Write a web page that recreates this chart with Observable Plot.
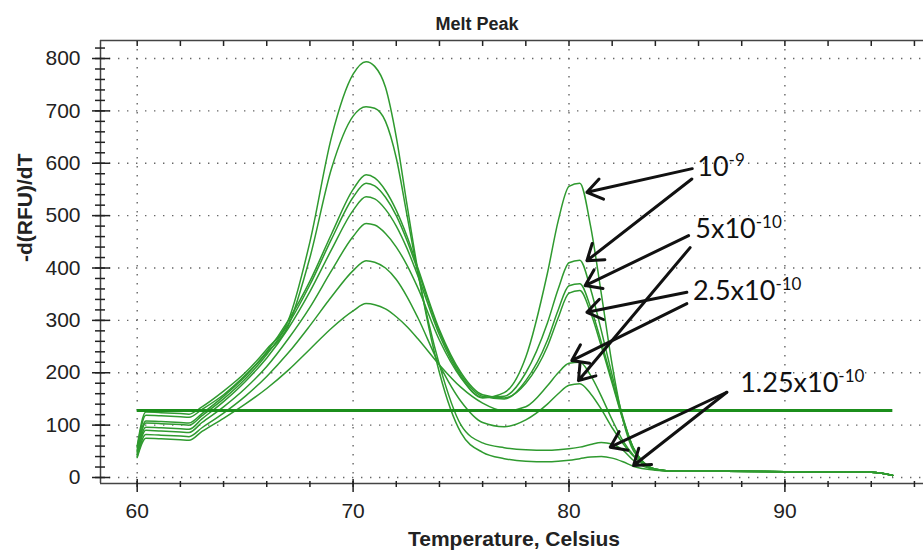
<!DOCTYPE html>
<html><head><meta charset="utf-8">
<script src="https://cdn.jsdelivr.net/npm/d3@7"></script>
<script src="https://cdn.jsdelivr.net/npm/@observablehq/plot@0.6"></script>
<style>body{margin:0;background:#fff}</style>
</head><body><div id="chart"></div>
<script>
// Temperatures (°C) at which the melt-peak curves were read
const temps = [60, 60.4, 61, 62, 62.4, 63, 64, 65, 66, 67, 68, 69, 70, 70.6, 71, 71.5, 72, 72.5, 73, 74, 75, 76, 77, 78, 79, 79.5, 80, 80.5, 81, 81.5, 82, 82.5, 83, 84, 85, 87, 90, 94, 95];

// -d(RFU)/dT for each well
const curve1 = [60,125,124,122,121,135,165,200,245,300,450,650,770,794,785,745,650,520,395,200,85,48,36,31,30,31,33,36,39,40,37,30,21,14,12,12,11,10,4];
const curve2 = [57,119,118,116,115,130,158,195,238,290,420,590,690,708,705,680,610,500,390,215,100,66,57,53,52,53,55,58,63,67,64,52,32,15,12,12,11,10,4];
const curve3 = [52,108,107,105,104,122,155,193,240,300,375,465,550,578,572,548,510,460,400,282,200,158,152,180,250,305,352,357,315,250,180,110,55,16,12,12,11,10,4];
const curve4 = [50,104,103,101,100,118,150,188,235,293,368,455,535,562,557,535,500,452,395,278,196,155,150,185,262,320,366,370,325,258,185,112,55,16,12,12,11,10,4];
const curve5 = [47,96,95,93,92,112,145,183,228,285,355,435,510,536,532,512,480,437,385,272,192,153,155,200,295,360,410,415,360,280,195,115,55,16,12,12,11,10,4];
const curve6 = [44,90,89,87,86,105,135,170,212,265,325,395,460,485,482,466,440,405,362,262,190,152,162,230,390,490,556,562,480,350,215,110,50,16,12,12,11,10,4];
const curve7 = [40,82,81,79,78,95,123,155,193,238,290,345,395,414,411,400,378,345,305,215,145,105,97,110,140,160,176,179,160,130,95,65,40,15,12,12,11,10,4];
const curve8 = [38,75,74,72,71,88,113,140,170,205,245,285,318,332,330,322,307,288,265,215,172,142,127,135,175,200,218,220,195,155,110,70,42,16,12,12,11,10,4];
const curves = [curve1, curve2, curve3, curve4, curve5, curve6, curve7, curve8];

// Threshold line
const threshold = 128;
const thresholdStart = 60, thresholdEnd = 95;

// Ticks
const xMajor = [60, 70, 80, 90];
const xMinor = [60,62,64,66,68,70,72,74,76,78,80,82,84,86,88,90,92,94,96];
const yMajor = [0, 100, 200, 300, 400, 500, 600, 700, 800];
const yMinor = d3.range(0, 821, 20);

// Annotations
const annoText = ["10^-9", "5x10^-10", "2.5x10^-10", "1.25x10^-10"];
const annoX = [85.94, 85.85, 85.74, 87.93];
const annoY = [576.6, 457.6, 339.2, 162.9];

const arrowX1 = [85.71, 85.69, 85.54, 85.61, 85.46, 85.46, 87.31, 87.31];
const arrowY1 = [589.7, 570.0, 461.8, 438.9, 353.6, 332.0, 162.8, 162.8];
const arrowX2 = [80.83, 80.83, 80.75, 80.44, 80.83, 80.13, 81.91, 82.99];
const arrowY2 = [544.5, 414.0, 366.4, 185.1, 315.5, 223.3, 57.8, 22.9];

const xDomain = [58.3, 96.42];
const yDomain = [-11.46, 834.4];

const rows = curves.flatMap((c, k) => c.map((v, j) => ({t: temps[j], v, k})));
const annos = annoText.map((s, i) => ({s, x: annoX[i], y: annoY[i]}));
const arrows = arrowX1.map((x1, i) => ({x1, y1: arrowY1[i], x2: arrowX2[i], y2: arrowY2[i]}));

const tickColor = "#222";
const gridStyle = {stroke: "#666", strokeOpacity: 1, strokeWidth: 1.4, strokeDasharray: "1.4 7.6"};

const chart = Plot.plot({
  width: 923,
  height: 558,
  marginLeft: 100,
  marginRight: 0,
  marginTop: 40,
  marginBottom: 75,
  x: {domain: xDomain},
  y: {domain: yDomain},
  style: {background: "white", fontFamily: "'Liberation Sans', Arial, sans-serif", color: "#222"},
  marks: [
    Plot.gridX({ticks: xMajor, ...gridStyle}),
    Plot.gridY({ticks: yMajor, ...gridStyle}),
    Plot.line(rows, {x: "t", y: "v", z: "k", stroke: "#2f9a2f", strokeWidth: 1.5, curve: "monotone-x"}),
    Plot.ruleY([threshold], {x1: thresholdStart, x2: thresholdEnd, stroke: "#1b8e1b", strokeWidth: 3}),
    // frame lines
    Plot.ruleY([yDomain[1]], {stroke: "#444", strokeWidth: 1.5}),
    Plot.ruleY([yDomain[0]], {stroke: "#444", strokeWidth: 1.5}),
    Plot.ruleX([xDomain[0]], {stroke: "#444", strokeWidth: 1.5}),
    // bottom ticks
    Plot.axisX({ticks: xMinor, anchor: "bottom", tickSize: 6, dy: -2, fill: "none", label: null, stroke: tickColor, strokeWidth: 1.5}),
    Plot.axisX({ticks: xMajor, anchor: "bottom", tickSize: 13, dy: -4, fill: "none", label: null, stroke: tickColor, strokeWidth: 1.5}),
    Plot.axisX({ticks: xMajor, anchor: "bottom", tickSize: 0, tickPadding: 20, label: null, fontSize: 21, fill: tickColor}),
    // top ticks
    Plot.axisX({ticks: xMinor, anchor: "top", tickSize: 5, dy: 5, fill: "none", label: null, stroke: tickColor, strokeWidth: 1.5}),
    // left ticks
    Plot.axisY({ticks: yMinor, anchor: "left", tickSize: 10, dx: 5, fill: "none", label: null, stroke: tickColor, strokeWidth: 1.5}),
    Plot.axisY({ticks: yMajor, anchor: "left", tickSize: 18, dx: 10, fill: "none", label: null, stroke: tickColor, strokeWidth: 1.5}),
    Plot.axisY({ticks: yMajor, anchor: "left", tickSize: 0, tickPadding: 20, label: null, fontSize: 21, fill: tickColor}),
    // titles
    Plot.text(["Melt Peak"], {frameAnchor: "top", dx: -35, dy: -23, fontWeight: "bold", fontSize: 18, fill: "#222"}),
    Plot.text(["Temperature, Celsius"], {frameAnchor: "bottom", dx: 2, dy: 62, fontWeight: "bold", fontSize: 21, fill: "#222"}),
    Plot.text(["-d(RFU)/dT"], {frameAnchor: "left", dx: -75, rotate: -90, fontWeight: "bold", fontSize: 21, fill: "#222"}),
    // annotations
    Plot.arrow(arrows, {x1: "x1", y1: "y1", x2: "x2", y2: "y2", stroke: "#111", strokeWidth: 3, headLength: 9, headAngle: 70}),
    Plot.text(annos, {x: "x", y: "y", text: "s", textAnchor: "start", lineAnchor: "bottom", fontSize: 27, fontFamily: "Lato, 'Open Sans', sans-serif", fill: "#111"})
  ]
});

// render exponents as superscripts
chart.querySelectorAll("text").forEach(t => {
  const s = t.textContent;
  if (s.includes("^") && t.children.length === 0) {
    const [base, exp] = s.split("^");
    t.textContent = base;
    const ts = document.createElementNS("http://www.w3.org/2000/svg", "tspan");
    ts.setAttribute("font-size", "17");
    ts.setAttribute("dy", "-10");
    ts.textContent = exp;
    t.appendChild(ts);
  }
});

document.getElementById("chart").appendChild(chart);
</script>
</body></html>
